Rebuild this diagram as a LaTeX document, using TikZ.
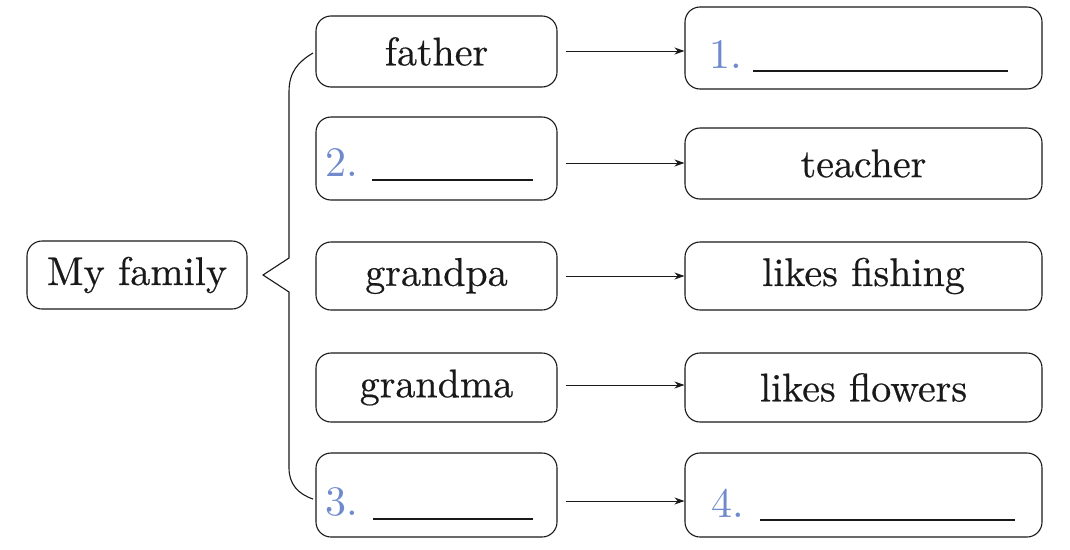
\documentclass[tikz,border=0pt]{standalone}
\usepackage{fontspec}
\setmainfont{lmroman10-regular.otf}
\newfontfamily\boxfont{lmroman10-regular.otf}[RawFeature={embolden=0.5}]
\usetikzlibrary{arrows.meta}
\definecolor{numblue}{RGB}{112,138,204}
\definecolor{ink}{RGB}{25,25,25}
\begin{document}
\begin{tikzpicture}[x=1pt,y=-1pt,
  box/.style={draw=ink, line width=1.1pt, rounded corners=15pt, inner sep=0pt,
    font=\boxfont\fontsize{40}{48}\selectfont, text=ink},
  num/.style={inner sep=0pt, anchor=base west, text=numblue, font=\fontsize{42}{48}\selectfont},
  uline/.style={draw=ink, line width=1.8pt},
  arr/.style={draw=ink, line width=0.9pt, -{Stealth[length=10pt,width=7pt]}},
  brace/.style={draw=ink, line width=1.1pt}]
\useasboundingbox (0,0) rectangle (1070,549);
% left-most
\node[box, minimum width=220pt, minimum height=68pt] (fam) at (137,275) {My family};
% middle column
\node[box, minimum width=241pt, minimum height=71pt] (father) at (436.5,51.5) {father};
\node[box, minimum width=241pt, minimum height=83pt] (b2) at (436.5,158.5) {};
\node[box, minimum width=241pt, minimum height=68pt] (grandpa) at (436.5,276) {grandpa};
\node[box, minimum width=241pt, minimum height=69pt] (grandma) at (436.5,387.5) {grandma};
\node[box, minimum width=241pt, minimum height=84pt] (b3) at (436.5,495) {};
% right column
\node[box, minimum width=357pt, minimum height=82pt] (a1) at (863.5,48) {};
\node[box, minimum width=357pt, minimum height=71pt] (teacher) at (863.5,163.5) {teacher};
\node[box, minimum width=357pt, minimum height=68pt] (fishing) at (863.5,276) {likes fishing};
\node[box, minimum width=357pt, minimum height=69pt] (flowers) at (863.5,387.5) {likes flowers};
\node[box, minimum width=357pt, minimum height=84pt] (a4) at (863.5,495) {};
% numbers and blanks
\node[num] (n1) at (709,68) {1.};
\draw[uline] (753,71) -- (1008,71);
\node[num] (n2) at (325,176) {2.};
\draw[uline] (372,180) -- (533,180);
\node[num] (n3) at (325,515) {3.};
\draw[uline] (373,519) -- (533,519);
\node[num] (n4) at (711,517) {4.};
\draw[uline] (760,520) -- (1015,520);
% arrows (yshift is in canvas direction: positive = up)
\draw[arr] ([xshift=8pt,yshift=0.5pt]father.east) -- ([yshift=0.5pt]father.east -| a1.west);
\draw[arr] ([xshift=8pt,yshift=-4.5pt]b2.east) -- ([yshift=-4.5pt]b2.east -| teacher.west);
\draw[arr] ([xshift=8pt]grandpa.east) -- (fishing.west);
\draw[arr] ([xshift=8pt,yshift=2.5pt]grandma.east) -- ([yshift=2.5pt]grandma.east -| flowers.west);
\draw[arr] ([xshift=8pt,yshift=-6pt]b3.east) -- ([yshift=-6pt]b3.east -| a4.west);
% bracket
\coordinate (top) at (313,53);
\coordinate (bot) at (313,499);
\coordinate (apex) at (263,275);
\draw[brace] (top) .. controls (298,62) and (289,72) .. (289,92)
  -- (289,258) -- (apex) -- (289,292) -- (289,468)
  .. controls (289,484) and (298,494) .. (bot);
\end{tikzpicture}
\end{document}
